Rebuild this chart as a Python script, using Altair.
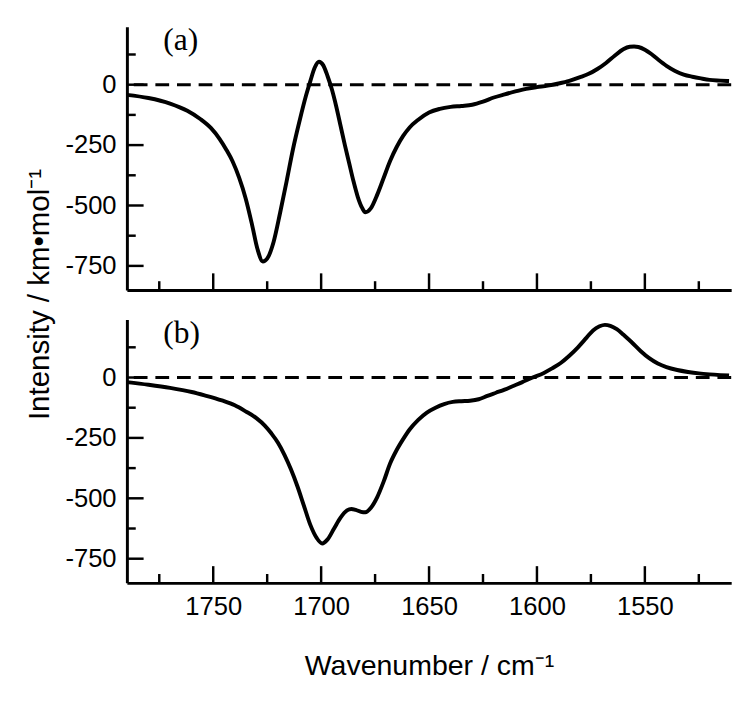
import altair as alt
import pandas as pd

# ---- data ----
wn_a = [1790, 1780, 1770, 1762, 1756, 1751, 1747, 1744, 1741, 1738, 1735, 1732, 1729.5, 1727, 1725,
        1722, 1719, 1716, 1713, 1710, 1707, 1705, 1703, 1701, 1699, 1697, 1695, 1693, 1691, 1689,
        1687, 1685, 1683, 1681, 1679.5, 1677, 1674, 1671, 1668, 1665, 1662, 1659, 1655, 1650, 1645,
        1640, 1635, 1630, 1625, 1620, 1615, 1610, 1605, 1600, 1595, 1590, 1585, 1580, 1576, 1572,
        1568, 1564, 1560, 1557, 1555, 1553, 1550, 1547, 1544, 1540, 1536, 1532, 1528, 1524, 1520,
        1515, 1511]
int_a = [-42, -55, -78, -108, -142, -180, -225, -268, -318, -385, -470, -580, -680, -732, -720,
         -650, -530, -400, -265, -150, -45, 15, 70, 95, 80, 35, -20, -90, -170, -250,
         -325, -400, -465, -510, -528, -512, -455, -385, -315, -258, -212, -177, -145, -115, -100,
         -92, -88, -83, -70, -53, -40, -28, -17, -10, -4, 5, 16, 31, 45, 65,
         90, 120, 147, 157, 158, 156, 145, 127, 105, 78, 57, 42, 33, 26, 20,
         17, 15]

wn_b = [1790, 1780, 1770, 1760, 1754, 1746, 1740, 1735, 1730, 1726, 1723, 1720, 1717, 1714, 1711,
        1708, 1705, 1702, 1699.5, 1697, 1694, 1691, 1688, 1686, 1684, 1681.5, 1679.5, 1677, 1674, 1671,
        1668, 1665, 1662, 1659, 1655, 1651, 1647, 1643, 1639, 1635, 1631, 1627, 1623, 1619, 1615,
        1611, 1607, 1602, 1597, 1593, 1589, 1585, 1581, 1577, 1574, 1571, 1568.5, 1566, 1563, 1560,
        1556, 1552, 1548, 1544, 1540, 1535, 1530, 1525, 1520, 1515, 1511]
int_b = [-19, -30, -43, -60, -74, -95, -115, -140, -168, -200, -232, -270, -320, -380, -450,
         -530, -610, -665, -687, -670, -625, -580, -550, -544, -548, -556, -558, -540, -495, -430,
         -355, -300, -255, -215, -175, -145, -125, -110, -101, -98, -96, -90, -76, -63, -50,
         -35, -20, 0, 18, 38, 60, 90, 125, 165, 195, 212, 218, 214, 200, 178,
         145, 110, 80, 58, 43, 31, 23, 17, 13, 10, 8]

x_major = [1750, 1700, 1650, 1600, 1550]
x_minor = [1775, 1725, 1675, 1625, 1575, 1525]
y_major = [-750, -500, -250, 0]
y_minor = [-625, -375, -125, 125]
panel_labels = ["(a)", "(b)"]
x_title = "Wavenumber / cm\u207b\u00b9"
y_title = "Intensity / km\u2022mol\u207b\u00b9"

W, H = 615, 268
FONT = "Liberation Sans"
xscale = alt.Scale(domain=[1510, 1790], reverse=True, nice=False, zero=False)
yscale = alt.Scale(domain=[-850, 240], nice=False, zero=False)


def panel(wn, vals, label, bottom):
    df = pd.DataFrame({"w": wn, "v": vals})
    xaxis = alt.Axis(
        values=x_major, ticks=False, tickSize=0, grid=False,
        labels=bottom, labelFont=FONT, labelFontSize=26, labelColor="black",
        labelPadding=11, labelExpr="toString(datum.value)",
        domainColor="black", domainWidth=3,
        title=x_title if bottom else None,
        titleFont=FONT, titleFontSize=29, titleFontWeight="normal", titleColor="black",
        titleY=93, titleBaseline="alphabetic",
    )
    yaxis_kw = dict(
        values=y_major, ticks=False, tickSize=0, grid=False,
        labelFont=FONT, labelFontSize=26, labelColor="black", labelPadding=11,
        labelExpr="toString(datum.value)",
        domainColor="black", domainWidth=3,
    )
    if not bottom:
        yaxis_kw.update(
            title=y_title, titleFont=FONT, titleFontSize=30, titleFontWeight="normal",
            titleColor="black", titleX=-80, titleY=272, titleAngle=-90,
            titleAlign="center", titleBaseline="alphabetic",
        )
    else:
        yaxis_kw.update(title=None)
    yaxis = alt.Axis(**yaxis_kw)

    line = alt.Chart(df).mark_line(color="black", strokeWidth=4, interpolate="monotone").encode(
        x=alt.X("w:Q", scale=xscale, axis=xaxis),
        y=alt.Y("v:Q", scale=yscale, axis=yaxis),
    )
    zero = alt.Chart(pd.DataFrame({"v": [0]})).mark_rule(
        color="black", strokeWidth=3, strokeDash=[14, 8]
    ).encode(y=alt.Y("v:Q", scale=yscale, axis=yaxis))

    def xt(vals_, length):
        return alt.Chart(pd.DataFrame({"w": vals_})).mark_rule(color="black", strokeWidth=2.5).encode(
            x=alt.X("w:Q", scale=xscale, axis=xaxis),
            y=alt.value(H), y2=alt.value(H - length),
        )

    def yt(vals_, length):
        return alt.Chart(pd.DataFrame({"v": vals_})).mark_rule(color="black", strokeWidth=2.5).encode(
            y=alt.Y("v:Q", scale=yscale, axis=yaxis),
            x=alt.value(0), x2=alt.value(length),
        )

    txt = alt.Chart(pd.DataFrame({"t": [label]})).mark_text(
        font="Liberation Serif", fontSize=32, align="left", baseline="alphabetic", color="black"
    ).encode(text="t:N", x=alt.value(37), y=alt.value(24))

    return alt.layer(line, zero, xt(x_major, 17), xt(x_minor, 9), yt(y_major, 17), yt(y_minor, 9),
                     txt).properties(width=W, height=H)


pa = panel(wn_a, int_a, panel_labels[0], False)
pb = panel(wn_b, int_b, panel_labels[1], True)

chart = alt.vconcat(pa, pb, spacing=30, bounds="flush").properties(
    padding={"left": 17, "top": 11, "right": 5, "bottom": 5}
).configure(background="white").configure_view(stroke=None)

chart.save("out.html", embed_options={"renderer": "svg", "actions": False})
